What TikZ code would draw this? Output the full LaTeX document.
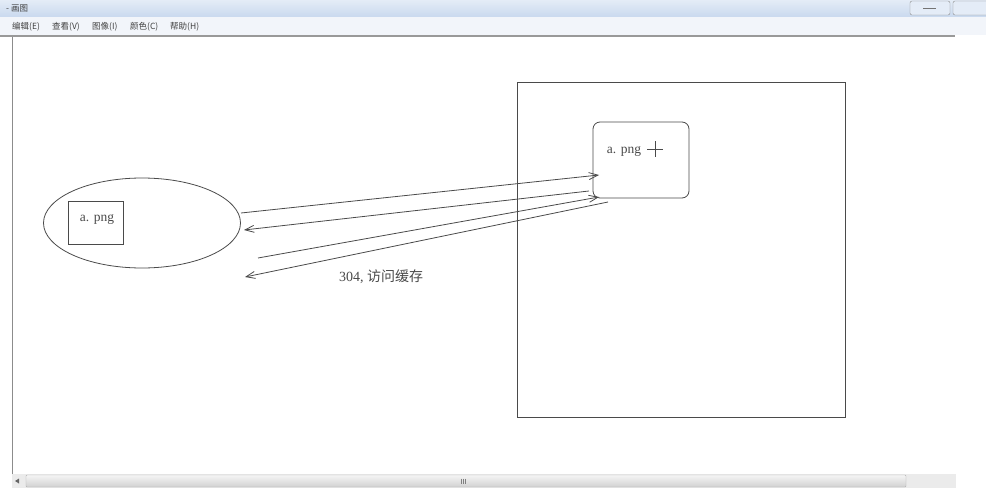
\documentclass[tikz,border=0pt]{standalone}
\usepackage{fontspec}
\setmainfont{Liberation Serif}
\newfontfamily\cjk{Noto Sans CJK SC}
\usetikzlibrary{shapes.geometric,arrows.meta}

\definecolor{barblue}{HTML}{C9D9EE}
\definecolor{barlight}{HTML}{E4ECF7}
\definecolor{menubg}{HTML}{F2F5FA}
\definecolor{ink}{HTML}{4A4A4A}

\tikzset{
  inkline/.style={draw=ink, line width=0.8pt},
  msg/.style={inkline, -{Straight Barb[length=9pt,width=7pt]}},
  menu/.style={font=\cjk\fontsize{8.5}{10}\selectfont, text=black!75, anchor=west, inner sep=0pt},
  fname/.style={font=\fontsize{13.5}{15}\selectfont, text=ink, inner sep=0pt},
}

\begin{document}
\begin{tikzpicture}[x=1pt, y=-1pt]
\useasboundingbox (0,0) rectangle (986,503);
\fill[white] (0,0) rectangle (986,503);

% window frame
\shade[top color=barlight, bottom color=barblue] (0,0) rectangle (986,17);
\fill[menubg] (0,17) rectangle (986,35);
\fill[black!40] (0,35) rectangle (955,37);
\draw[black!45] (12.5,37) -- (12.5,474);
\node[menu] (title) at (6,8) {- 画图};
\node[menu] (medit) at (12,27) {编辑(E)};
\node[menu] (mview) at (52,27) {查看(V)};
\node[menu] (mimage) at (92,27) {图像(I)};
\node[menu] (mcolor) at (130,27) {颜色(C)};
\node[menu] (mhelp) at (170,27) {帮助(H)};
\draw[black!45, fill=barlight, rounded corners=2pt] (910,1) rectangle (950,15);
\draw[black!55, line width=1pt] (923,9) -- (936,9);
\draw[black!45, fill=barlight, rounded corners=2pt] (953,1) rectangle (990,15);

% scroll bar
\fill[black!8] (12,474) rectangle (956,488);
\shade[draw=black!30, top color=black!4, bottom color=black!18, rounded corners=1pt] (26,475) rectangle (906,487);
\fill[black!60] (15,481) -- (19,478.5) -- (19,483.5) -- cycle;
\foreach \gx in {461,463,465}
  \draw[black!50] (\gx,478.5) -- (\gx,483.5);

% browser side
\node[ellipse, inkline, minimum width=197pt, minimum height=90pt] (browser) at (142,223) {};
\node[rectangle, inkline, minimum width=55pt, minimum height=43pt] (cache) at (95.5,222.5) {};
\node[fname] (cachefile) at (97,219) {a. png};

% server side
\node[rectangle, inkline, minimum width=328pt, minimum height=335pt] (server) at (681,249.5) {};
\node[rectangle, inkline, rounded corners=7pt, minimum width=96pt, minimum height=76pt] (res) at (641,160) {};
\node[fname] (resfile) at (624,151) {a. png};
\draw[ink, line width=0.6pt] (647,149) -- (663,149) (655,141) -- (655,157);

% request / response lines
\coordinate (req1) at (241,213);
\coordinate (in1) at (599,175);
\coordinate (out1) at (589,191);
\coordinate (back1) at (244,230);
\coordinate (req2) at (258,258);
\coordinate (in2) at (599,197);
\coordinate (out2) at (608,202);
\coordinate (back2) at (245,277);
\draw[msg] (req1) -- (in1);
\draw[msg] (out1) -- (back1);
\draw[msg] (req2) -- (in2);
\draw[msg] (out2) -- (back2);

\node[font=\fontsize{14}{16}\selectfont, text=ink, inner sep=0pt] (note) at (381,277) {304, {\cjk 访问缓存}};
\end{tikzpicture}
\end{document}
